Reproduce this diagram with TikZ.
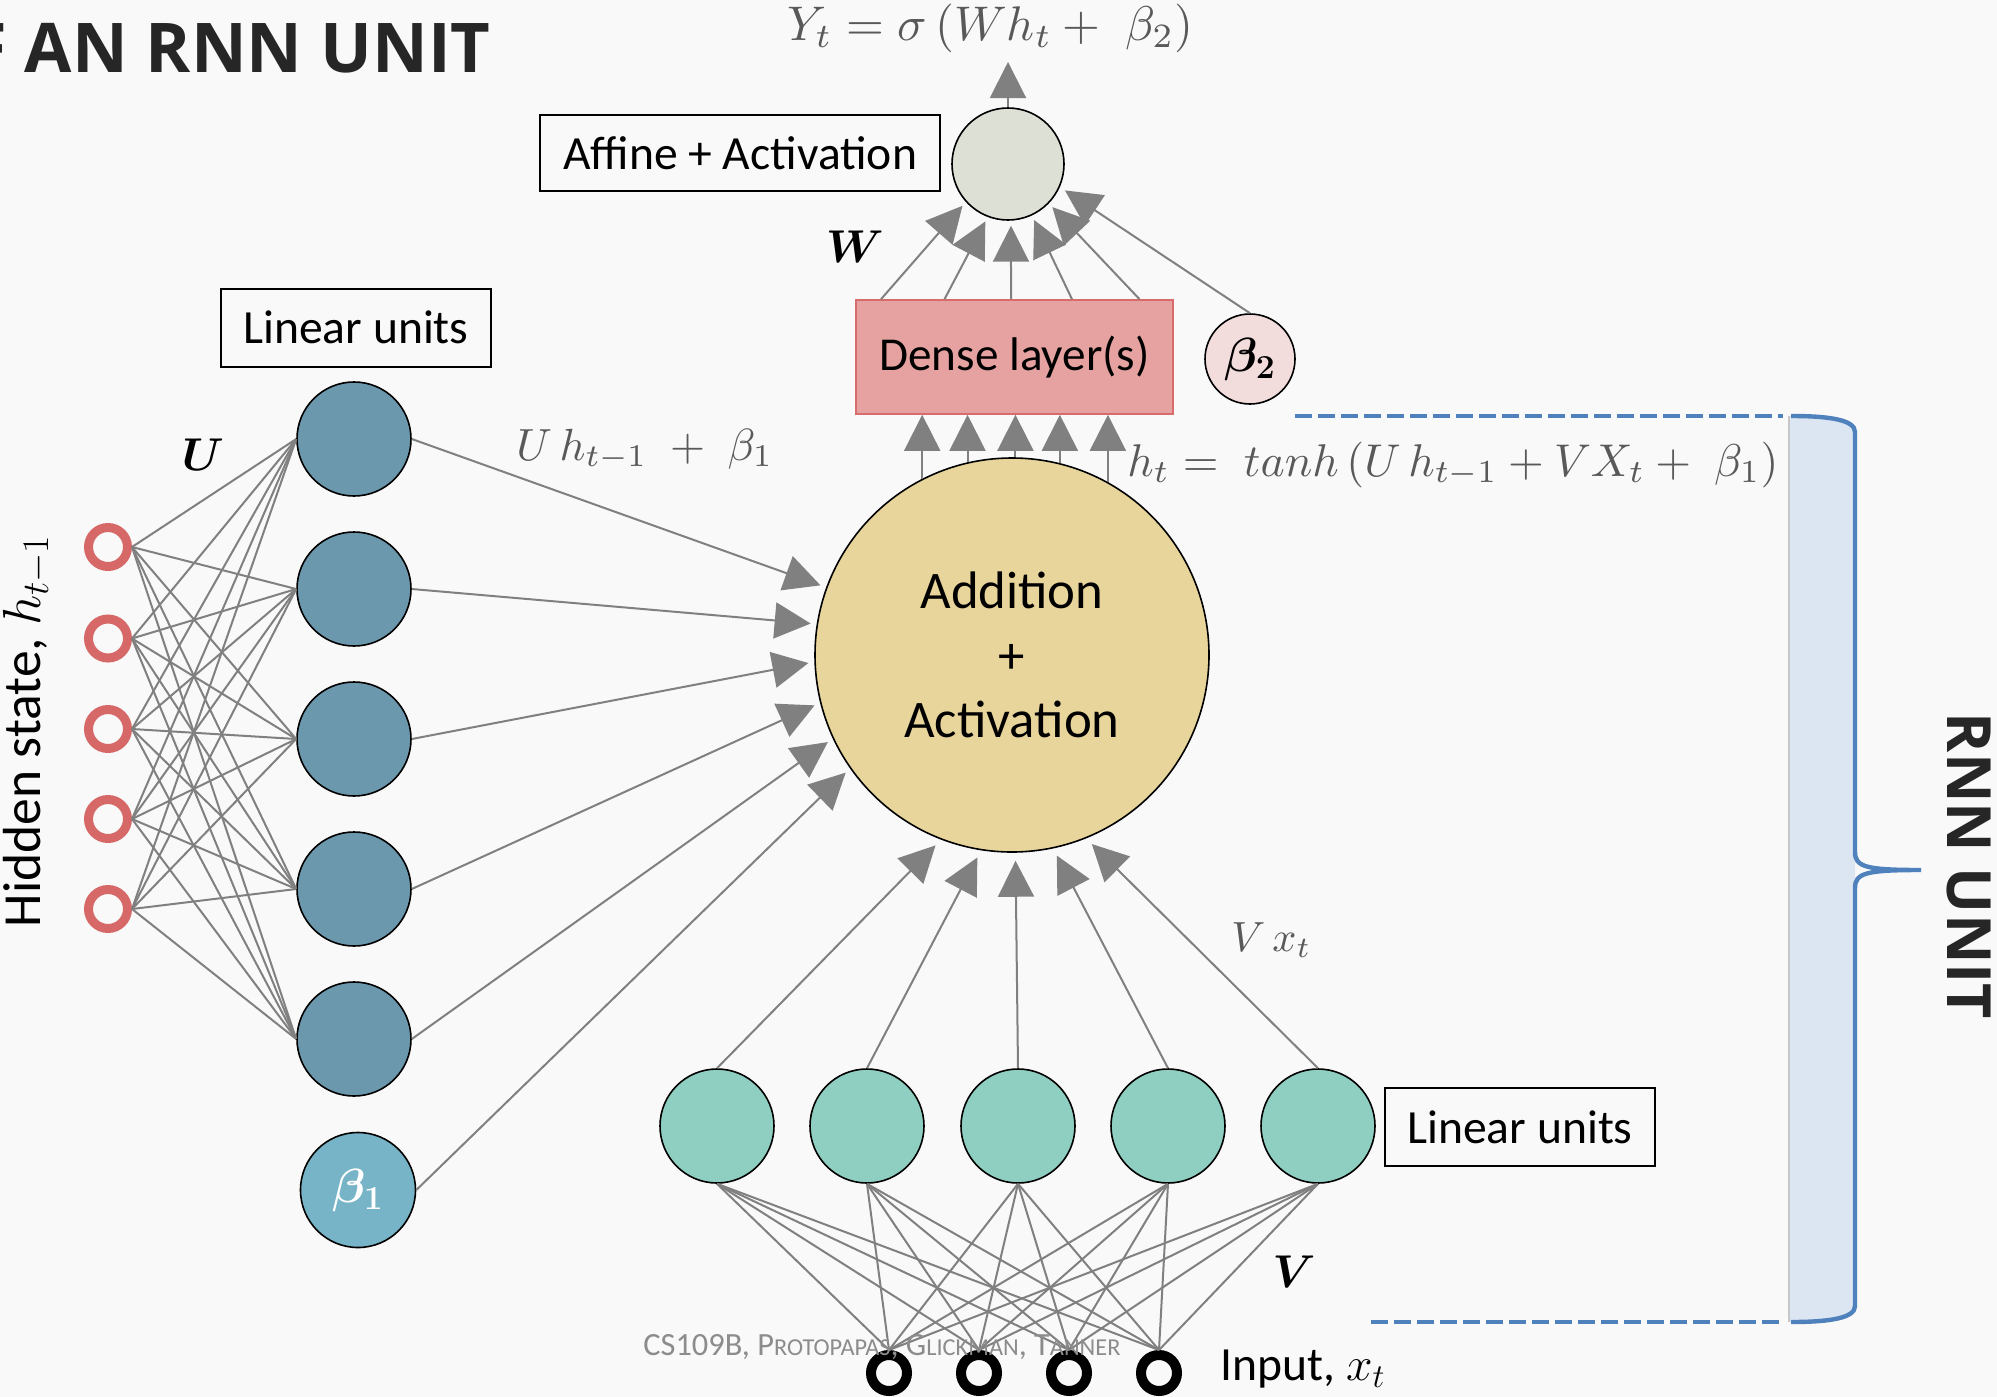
\RequirePackage{fix-cm}
\documentclass[tikz,border=0pt]{standalone}
\usepackage{amsmath,bm}
\usepackage{fontspec}
\setmainfont{Carlito}
\newfontfamily\titlefont{Open Sans}
\usepackage{graphicx}
\usetikzlibrary{arrows.meta,calc}
\definecolor{bg}{HTML}{F9F9F9}
\definecolor{lgray}{HTML}{808080}
\definecolor{ringred}{HTML}{D66868}
\definecolor{ublue}{HTML}{6C98AE}
\definecolor{bonefill}{HTML}{78B4C7}
\definecolor{tealnode}{HTML}{8ECFC2}
\definecolor{bigfill}{HTML}{E8D59B}
\definecolor{topfill}{HTML}{DDE0D5}
\definecolor{densefill}{HTML}{E5A2A1}
\definecolor{densedraw}{HTML}{D86C6C}
\definecolor{btwofill}{HTML}{F3DCDC}
\definecolor{braceblue}{HTML}{4F81BD}
\definecolor{bandblue}{HTML}{DCE6F2}
\definecolor{mathgray}{HTML}{595959}
\definecolor{wmgray}{HTML}{8C8C8C}
\definecolor{titlegray}{HTML}{262626}
\newcommand{\smcp}[1]{{\fontsize{15}{18}\selectfont #1}}
\tikzset{
  gline/.style={draw=lgray, line width=1pt},
  garrow/.style={gline, -{Triangle[width=18pt,length=18pt]}},
  ring/.style={circle, draw=ringred, line width=4.5pt, minimum size=19.5pt, inner sep=0pt},
  inring/.style={circle, draw=black, line width=5pt, minimum size=18pt, inner sep=0pt},
  unode/.style={circle, draw=black, line width=0.8pt, fill=ublue, minimum size=57pt, inner sep=0pt},
  tnode/.style={circle, draw=black, line width=0.8pt, fill=tealnode, minimum size=57pt, inner sep=0pt},
  lbox/.style={draw=black, line width=1pt, inner sep=0pt, font=\fontsize{23.8}{28}\selectfont},
  mathlab/.style={inner sep=0pt, text=mathgray},
  wlab/.style={inner sep=0pt, font=\fontsize{23}{28}\selectfont}
}
\begin{document}
\begin{tikzpicture}[x=0.5pt,y=-0.5pt]
\useasboundingbox (0,0) rectangle (1997,1397);
\fill[bg] (0,0) rectangle (1997,1397);

% RNN unit band and brace
\fill[bandblue] (1789,416) -- (1791,416) .. controls (1830,416) and (1855,420) .. (1855,432) -- (1855,1306) .. controls (1855,1318) and (1830,1322) .. (1791,1322) -- (1789,1322) -- cycle;
\draw[draw=black!22, line width=0.6pt] (1789,416) -- (1789,1322);
\draw[braceblue, line width=2.2pt] (1791,416) .. controls (1830,416) and (1855,420) .. (1855,432) -- (1855,852) .. controls (1855,867) and (1866,870) .. (1921,870) .. controls (1866,870) and (1855,873) .. (1855,888) -- (1855,1306) .. controls (1855,1318) and (1830,1322) .. (1791,1322);
\draw[braceblue, line width=2.3pt, dash pattern=on 8.5pt off 3pt] (1295,416) -- (1783,416);
\draw[braceblue, line width=2.3pt, dash pattern=on 8.5pt off 3pt] (1371,1322) -- (1783,1322);

% title and side labels
\node[anchor=base east, inner sep=0pt, text=titlegray, font=\titlefont\bfseries\fontsize{34.3}{40}\selectfont] (title) at (491,72) {F AN RNN UNIT};
\node[rotate=-90, anchor=base, inner sep=0pt, text=titlegray, font=\titlefont\bfseries\fontsize{30.5}{36}\selectfont] (rnn) at (1947,866) {RNN UNIT};
\node[rotate=90, anchor=base, inner sep=0pt, font=\fontsize{26.8}{31}\selectfont] (hid) at (40,731) {Hidden state, $h_{t-1}$};

% hidden state inputs
\foreach \y [count=\k] in {547,638.5,729,819,909}
  \node[ring] (r\k) at (108,\y) {};
% linear units U
\foreach \y [count=\k] in {439,589,739,889,1039}
  \node[unode] (u\k) at (354,\y) {};
\node[circle, draw=black, line width=0.8pt, fill=bonefill, minimum size=57.5pt, inner sep=0pt, text=white, font=\fontsize{24}{28}\selectfont] (b1) at (358,1190) {$\bm{\beta}_{\bm{1}}$};

% big node
\node[circle, draw=black, line width=0.8pt, fill=bigfill, minimum size=197pt, inner sep=0pt, align=center, font=\fontsize{26.4}{32.3}\selectfont] (big) at (1012,655) {Addition\\+\\Activation};

% input linear units
\foreach \x [count=\k] in {717,867,1018,1168,1318}
  \node[tnode] (t\k) at (\x,1126) {};
\foreach \x [count=\k] in {889,979,1069,1159}
  \node[inring] (i\k) at (\x,1373) {};

% dense, output
\node[draw=densedraw, line width=0.8pt, fill=densefill, minimum width=158.5pt, minimum height=57pt, inner sep=0pt, font=\fontsize{23.6}{28}\selectfont] (dense) at (1014.5,357) {Dense layer(s)};
\node[circle, draw=black, line width=0.8pt, fill=btwofill, minimum size=45pt, inner sep=0pt, font=\fontsize{24}{28}\selectfont] (b2) at (1250,359) {$\bm{\beta}_{\bm{2}}$};
\node[circle, draw=black, line width=0.8pt, fill=topfill, minimum size=56pt, inner sep=0pt] (top) at (1008,164) {};
\coordinate (yout) at (1008,62);

% boxes
\node[lbox, minimum width=135pt, minimum height=39pt] (linU) at (356,327.7) {Linear units};
\node[lbox, minimum width=200pt, minimum height=38pt] (aff) at (740,153) {Affine + Activation};
\node[lbox, minimum width=135pt, minimum height=39pt] (linV) at (1520,1127) {Linear units};

% connections U
\foreach \a in {1,...,5}
  \foreach \b in {1,...,5}
    \draw[gline] (r\a.east) -- (u\b.west);
\foreach \k/\ang in {1/160.5,2/171.4,3/182,4/194.8,5/205.3}
  \draw[garrow, shorten >=3pt] (u\k.east) -- (big.\ang);
\draw[garrow, shorten >=3pt] (b1.east) -- (big.215.8);

% connections V
\foreach \a in {1,...,5}
  \foreach \b in {1,...,4}
    \draw[gline] (t\a.south) -- (i\b.north);
\foreach \k/\ang in {1/249.4,2/261.9,3/271.4,4/282.2,5/292.4}
  \draw[garrow, shorten >=4pt] (t\k.north) -- (big.\ang);

% to dense
\foreach \ang in {117.5,103.2,89.7,76.2,61.8}
  \draw[garrow] (big.\ang) -- (big.\ang |- dense.south);
% dense to output
\foreach \dx/\ang in {-133.5/222.5,-70/249,-3.5/273,57.5/295,125/316}
  \draw[garrow, shorten >=2.5pt] ($(dense.north)+(\dx,0)$) -- (top.\ang);
\draw[garrow, shorten >=3pt] (b2.north) -- (top.336);
\draw[garrow] (top.north) -- (yout);

% weight labels
\node[wlab] (wW) at (855,247) {$\boldsymbol{W}$};
\node[wlab] (wU) at (203,455) {$\boldsymbol{U}$};
\node[wlab] (wV) at (1294,1272) {$\boldsymbol{V}$};

% formulas
\node[mathlab, anchor=base west] (fy) at (787,40) {\resizebox{203pt}{!}{$Y_t = \sigma\,(W h_t +\; \beta_2)$}};
\node[mathlab, anchor=base west] (fu) at (516,460) {\resizebox{128.5pt}{!}{$U\,h_{t-1} \;+\; \beta_1$}};
\node[mathlab, anchor=base west] (fh) at (1127,476) {\resizebox{325.5pt}{!}{$h_t =\; tanh\,(U\,h_{t-1} + VX_t +\; \beta_1)$}};
\node[mathlab, anchor=base west] (fv) at (1231,951) {\resizebox{40pt}{!}{$V\,x_t$}};
\node[anchor=base west, inner sep=0pt, font=\fontsize{23.8}{28}\selectfont] (inp) at (1220,1380) {Input, $x_t$};

% watermark
\node[anchor=base west, inner sep=0pt, text=wmgray] (wm) at (643,1355) {\resizebox{238.5pt}{!}{\fontsize{20}{24}\selectfont CS109B, P\smcp{ROTOPAPAS}, G\smcp{LICKMAN}, T\smcp{ANNER}}};
\end{tikzpicture}
\end{document}
